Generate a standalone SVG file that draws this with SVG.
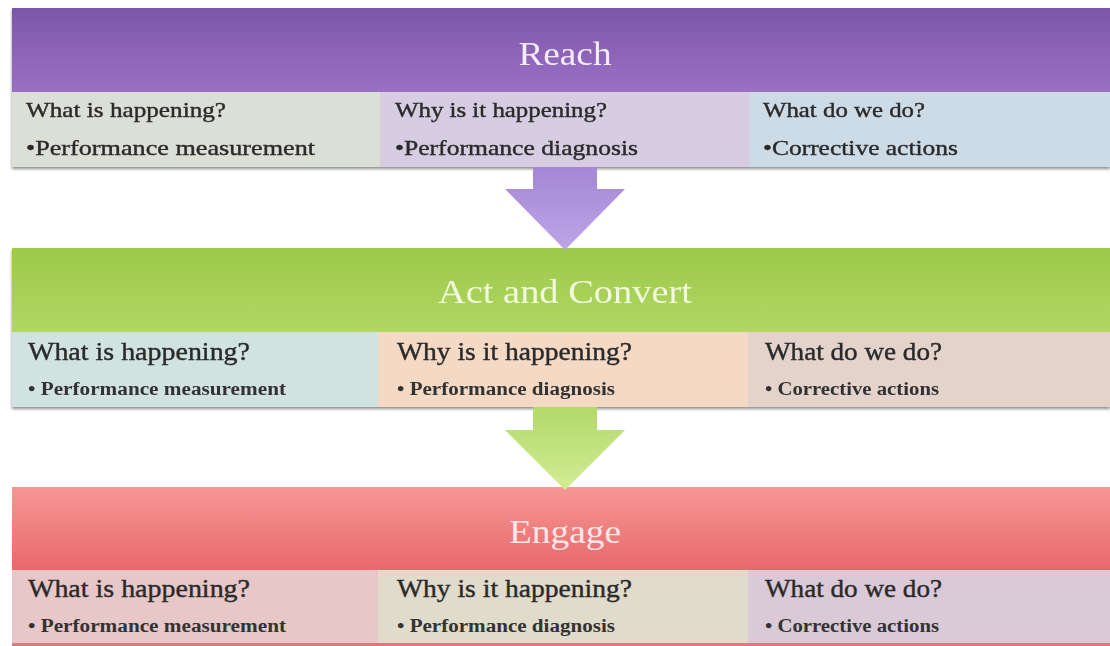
<svg xmlns="http://www.w3.org/2000/svg" width="1110" height="646" viewBox="0 0 1110 646">
  <defs>
    <linearGradient id="gReach" x1="0" y1="0" x2="0" y2="1">
      <stop offset="0" stop-color="#7c56a9"/>
      <stop offset="1" stop-color="#9a70c5"/>
    </linearGradient>
    <linearGradient id="gAct" x1="0" y1="0" x2="0" y2="1">
      <stop offset="0" stop-color="#9cc94a"/>
      <stop offset="1" stop-color="#b0d862"/>
    </linearGradient>
    <linearGradient id="gEngage" x1="0" y1="0" x2="0" y2="1">
      <stop offset="0" stop-color="#f69794"/>
      <stop offset="1" stop-color="#e8686b"/>
    </linearGradient>
    <linearGradient id="gArrowPurple" x1="0" y1="0" x2="0" y2="1">
      <stop offset="0" stop-color="#a487d6"/>
      <stop offset="1" stop-color="#bda5e6"/>
    </linearGradient>
    <linearGradient id="gArrowGreen" x1="0" y1="0" x2="0" y2="1">
      <stop offset="0" stop-color="#b2d96a"/>
      <stop offset="1" stop-color="#d3ec94"/>
    </linearGradient>
    <filter id="shadow" x="-5%" y="-20%" width="110%" height="140%">
      <feGaussianBlur in="SourceAlpha" stdDeviation="1.5"/>
      <feOffset dx="0" dy="2" result="b"/>
      <feComponentTransfer><feFuncA type="linear" slope="0.45"/></feComponentTransfer>
      <feMerge><feMergeNode/><feMergeNode in="SourceGraphic"/></feMerge>
    </filter>
  </defs>
  <style>
    .title { font-family: "Liberation Serif", "DejaVu Serif", serif; font-size: 34px; text-anchor: middle; }
    .q1 { font-family: "Liberation Serif", "DejaVu Serif", serif; font-size: 22px; fill: #2a2a2a; stroke: #2a2a2a; stroke-width: 0.4px; }
    .q2 { font-family: "Liberation Serif", "DejaVu Serif", serif; font-size: 26px; fill: #2a2a2a; stroke: #2a2a2a; stroke-width: 0.4px; }
    .b2 { font-family: "Liberation Serif", "DejaVu Serif", serif; font-size: 18px; font-weight: bold; fill: #333333; }
  </style>

  <rect width="1110" height="646" fill="#ffffff"/>

  <!-- Stage 1: Reach -->
  <g id="reach" filter="url(#shadow)">
    <rect x="12" y="8" width="1098" height="84" fill="url(#gReach)"/>
    <rect x="12" y="92" width="368" height="75" fill="#dcdfd6"/>
    <rect x="380" y="92" width="370" height="75" fill="#d6cde2"/>
    <rect x="750" y="92" width="360" height="75" fill="#cddbe6"/>
    <text class="title" x="565" y="65" fill="#f5ecfa" textLength="93" lengthAdjust="spacingAndGlyphs">Reach</text>
    <text class="q1" x="26" y="117" textLength="200" lengthAdjust="spacingAndGlyphs">What is happening?</text>
    <text class="q1" x="26" y="155" textLength="289" lengthAdjust="spacingAndGlyphs">•Performance measurement</text>
    <text class="q1" x="395" y="117" textLength="212" lengthAdjust="spacingAndGlyphs">Why is it happening?</text>
    <text class="q1" x="395" y="155" textLength="243" lengthAdjust="spacingAndGlyphs">•Performance diagnosis</text>
    <text class="q1" x="763" y="117" textLength="162" lengthAdjust="spacingAndGlyphs">What do we do?</text>
    <text class="q1" x="763" y="155" textLength="195" lengthAdjust="spacingAndGlyphs">•Corrective actions</text>
  </g>

  <!-- Stage 2: Act and Convert -->
  <g id="act-and-convert" filter="url(#shadow)">
    <rect x="12" y="248" width="1098" height="84" fill="url(#gAct)"/>
    <rect x="12" y="332" width="366" height="75" fill="#d1e3e1"/>
    <rect x="378" y="332" width="370" height="75" fill="#f4d9c5"/>
    <rect x="748" y="332" width="362" height="75" fill="#e3d3cb"/>
    <text class="title" x="565" y="303" fill="#f2f9dc" textLength="254" lengthAdjust="spacingAndGlyphs">Act and Convert</text>
    <text class="q2" x="28" y="360" textLength="222" lengthAdjust="spacingAndGlyphs">What is happening?</text>
    <text class="b2" x="28" y="395" textLength="258" lengthAdjust="spacingAndGlyphs">• Performance measurement</text>
    <text class="q2" x="397" y="360" textLength="235" lengthAdjust="spacingAndGlyphs">Why is it happening?</text>
    <text class="b2" x="397" y="395" textLength="218" lengthAdjust="spacingAndGlyphs">• Performance diagnosis</text>
    <text class="q2" x="765" y="360" textLength="177" lengthAdjust="spacingAndGlyphs">What do we do?</text>
    <text class="b2" x="765" y="395" textLength="174" lengthAdjust="spacingAndGlyphs">• Corrective actions</text>
  </g>

  <!-- Stage 3: Engage -->
  <g id="engage">
    <rect x="12" y="487" width="1098" height="83" fill="url(#gEngage)"/>
    <rect x="12" y="570" width="366" height="73" fill="#e8c7c9"/>
    <rect x="378" y="570" width="370" height="73" fill="#e1dbcc"/>
    <rect x="748" y="570" width="362" height="73" fill="#dac9d7"/>
    <rect x="12" y="643" width="1098" height="3" fill="#d97a7c"/>
    <text class="title" x="565" y="543" fill="#fde6e6" textLength="112" lengthAdjust="spacingAndGlyphs">Engage</text>
    <text class="q2" x="28" y="597" textLength="222" lengthAdjust="spacingAndGlyphs">What is happening?</text>
    <text class="b2" x="28" y="632" textLength="258" lengthAdjust="spacingAndGlyphs">• Performance measurement</text>
    <text class="q2" x="397" y="597" textLength="235" lengthAdjust="spacingAndGlyphs">Why is it happening?</text>
    <text class="b2" x="397" y="632" textLength="218" lengthAdjust="spacingAndGlyphs">• Performance diagnosis</text>
    <text class="q2" x="765" y="597" textLength="177" lengthAdjust="spacingAndGlyphs">What do we do?</text>
    <text class="b2" x="765" y="632" textLength="174" lengthAdjust="spacingAndGlyphs">• Corrective actions</text>
  </g>

  <!-- Block arrows between stages -->
  <g id="connectors">
    <polygon points="533,167 597,167 597,189 625,189 565,250 505,189 533,189" fill="url(#gArrowPurple)"/>
    <polygon points="533,407 597,407 597,430 625,430 565,490 505,430 533,430" fill="url(#gArrowGreen)"/>
  </g>
</svg>
